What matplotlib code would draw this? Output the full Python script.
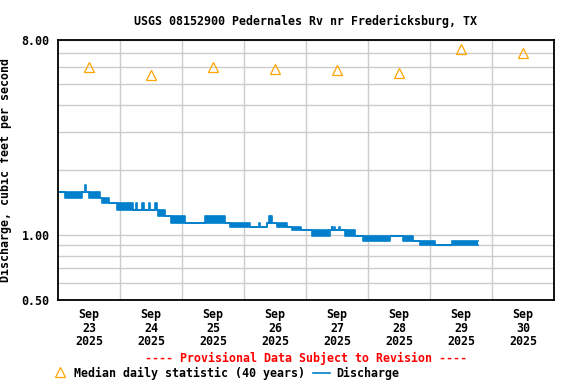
import numpy as np
import matplotlib
matplotlib.use('Agg')
import matplotlib.pyplot as plt
import matplotlib.dates as mdates
from matplotlib.ticker import FixedLocator, NullFormatter, FixedFormatter
from matplotlib.lines import Line2D
import datetime as dt

plt.rcParams['font.family'] = ['DejaVu Sans Mono']
plt.rcParams['font.weight'] = 'bold'

# 中位数 (每日中午)
median_days = ['2025-09-23', '2025-09-24', '2025-09-25', '2025-09-26',
               '2025-09-27', '2025-09-28', '2025-09-29', '2025-09-30']
median_vals = [6.0, 5.5, 6.0, 5.9, 5.8, 5.6, 7.25, 7.0]

# 流量: 分段 (开始小时, 下沿, 上沿); 上沿 != 下沿 时为来回波动的块
seg_start = [0.0, 2.8, 9.2, 10.5, 11.0, 12.1, 16.3, 16.9, 19.9, 22.7,
             28.9, 30.1, 30.4, 32.5, 33.3, 35.2, 35.5, 37.5, 38.2, 38.8,
             41.4, 43.7, 49.2, 56.9, 64.6, 66.6, 74.3, 77.8, 78.1, 80.8,
             81.8, 82.1, 82.6, 82.9, 84.6, 88.5, 90.5, 94.0, 98.2, 105.3,
             105.9, 106.2, 107.0, 107.4, 108.7, 109.2, 111.1, 115.0, 117.9, 128.5,
             133.6, 137.5, 140.1, 145.9, 152.4]
seg_lo = [1.58, 1.49, 1.58, 1.58, 1.58, 1.49, 1.49, 1.40, 1.40, 1.31,
          1.31, 1.31, 1.31, 1.31, 1.31, 1.31, 1.31, 1.31, 1.31, 1.23,
          1.23, 1.14, 1.14, 1.14, 1.14, 1.09, 1.09, 1.09, 1.09, 1.14,
          1.14, 1.14, 1.14, 1.14, 1.09, 1.09, 1.05, 1.05, 0.99, 1.05,
          1.05, 1.05, 1.05, 1.05, 1.05, 1.05, 0.99, 0.99, 0.94, 0.99,
          0.94, 0.94, 0.90, 0.90, 0.90]
seg_hi = [1.58, 1.58, 1.58, 1.70, 1.58, 1.58, 1.49, 1.49, 1.40, 1.40,
          1.31, 1.40, 1.31, 1.40, 1.31, 1.40, 1.31, 1.40, 1.31, 1.31,
          1.23, 1.23, 1.14, 1.23, 1.14, 1.14, 1.09, 1.14, 1.09, 1.14,
          1.23, 1.14, 1.23, 1.14, 1.14, 1.09, 1.09, 1.05, 1.05, 1.05,
          1.09, 1.05, 1.09, 1.05, 1.09, 1.05, 1.05, 0.99, 0.99, 0.99,
          0.99, 0.94, 0.94, 0.90, 0.94]
seg_end = 162.7

t0 = dt.datetime(2025, 9, 23)
t = [t0 + dt.timedelta(hours=h) for h in seg_start + [seg_end]]
lo = seg_lo + [seg_lo[-1]]
hi = seg_hi + [seg_hi[-1]]

blue = '#0080cc'
orange = '#ffa500'
fs = 8.4

fig = plt.figure(figsize=(5.76, 3.84), dpi=100)
ax = fig.add_axes([58 / 576, 1 - 300 / 384, 496 / 576, 260 / 384])

ax.fill_between(t, lo, hi, step='post', color=blue, lw=0)
ax.step(t, lo, where='post', color=blue, lw=1.2)
ax.step(t, hi, where='post', color=blue, lw=1.2)

med_t = [dt.datetime.strptime(d, '%Y-%m-%d') + dt.timedelta(hours=12) for d in median_days]
ax.plot(med_t, median_vals, linestyle='none', marker='^', markersize=7,
        markerfacecolor='none', markeredgecolor=orange, markeredgewidth=0.9)

ax.set_yscale('log')
ax.set_ylim(0.5, 8.0)
ax.set_xlim(t0, t0 + dt.timedelta(days=8))

ax.yaxis.set_major_locator(FixedLocator([0.5, 1.0, 8.0]))
ax.yaxis.set_major_formatter(FixedFormatter(['0.50', '1.00', '8.00']))
ax.yaxis.set_minor_locator(FixedLocator([0.6, 0.7, 0.8, 0.9, 2, 3, 4, 5, 6, 7]))
ax.yaxis.set_minor_formatter(NullFormatter())

day_mid = [mdates.date2num(t0 + dt.timedelta(days=i, hours=12)) for i in range(8)]
day_lines = [mdates.date2num(t0 + dt.timedelta(days=i)) for i in range(1, 8)]
ax.xaxis.set_major_locator(FixedLocator(day_mid))
ax.xaxis.set_major_formatter(FixedFormatter([f"Sep\n{23 + i}\n2025" for i in range(8)]))
ax.xaxis.set_minor_locator(FixedLocator(day_lines))
for lab in ax.get_xticklabels():
    lab.set_linespacing(1.05)

ax.grid(False)
ax.grid(True, which='minor', color='#cccccc', lw=1)
ax.grid(True, which='major', axis='y', color='#cccccc', lw=1)
ax.set_axisbelow(True)
ax.tick_params(which='both', length=0)
ax.tick_params(axis='x', pad=6, labelsize=fs)
ax.tick_params(axis='y', pad=6, labelsize=fs)
for s in ax.spines.values():
    s.set_linewidth(1.3)

ax.set_ylabel('Discharge, cubic feet per second', fontsize=fs, fontweight='bold')
ax.yaxis.set_label_coords((12 - 58) / 496, 0.5)
ax.set_title('USGS 08152900 Pedernales Rv nr Fredericksburg, TX', fontsize=fs,
             fontweight='bold', pad=11)

fig.text(306 / 576, 1 - 358 / 384, '---- Provisional Data Subject to Revision ----',
         color='red', fontsize=fs, fontweight='bold', ha='center', va='center')

fig.lines.append(Line2D([60 / 576], [1 - 372 / 384], marker='^', markersize=7,
                        markerfacecolor='none', markeredgecolor=orange,
                        markeredgewidth=0.9, transform=fig.transFigure))
fig.text(74 / 576, 1 - 373 / 384, 'Median daily statistic (40 years)', fontsize=fs,
         fontweight='bold', ha='left', va='center')
fig.lines.append(Line2D([313 / 576, 330 / 576], [1 - 373 / 384, 1 - 373 / 384],
                        color=blue, lw=1.2, transform=fig.transFigure))
fig.text(336 / 576, 1 - 373 / 384, 'Discharge', fontsize=fs, fontweight='bold',
         ha='left', va='center')

plt.savefig('out.png', dpi=100)
